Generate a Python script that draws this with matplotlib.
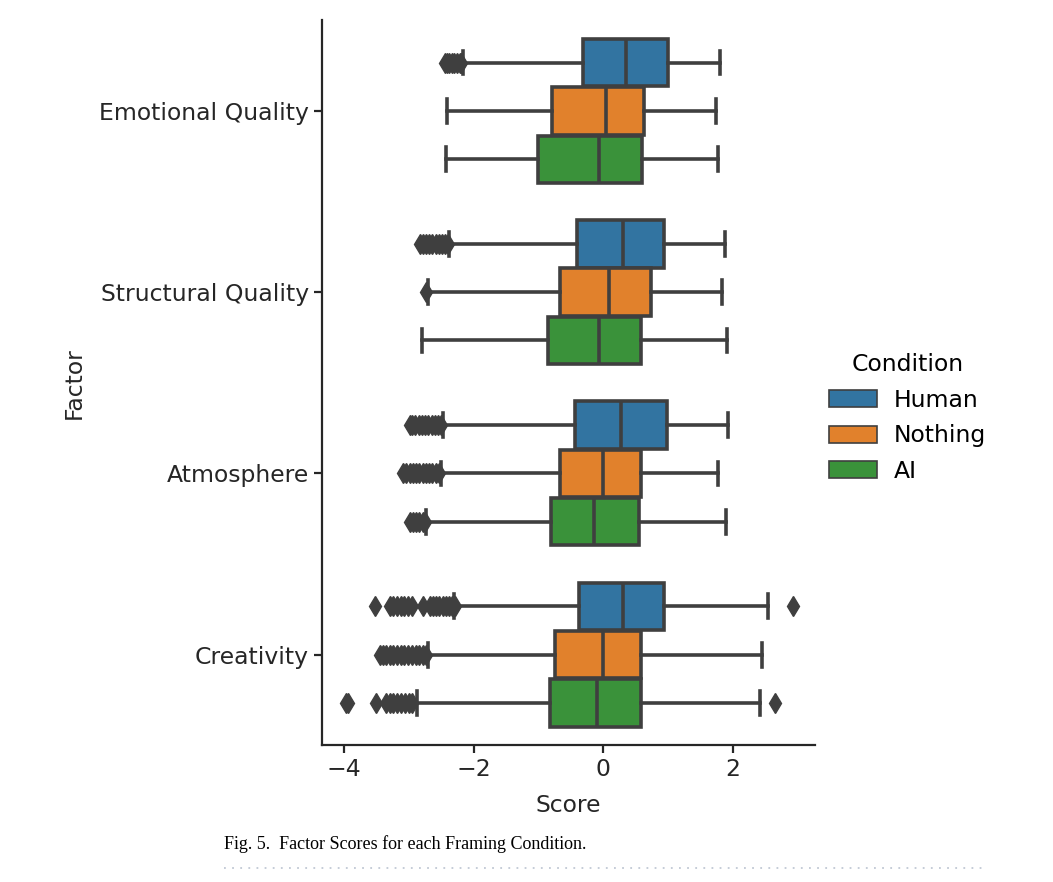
import matplotlib.pyplot as plt
from matplotlib.patches import Patch

factors = ['Emotional Quality', 'Structural Quality', 'Atmosphere', 'Creativity']
conditions = ['Human', 'Nothing', 'AI']
colors = ['#3274a1', '#e1812c', '#3a923a']

# per condition: one entry per factor -> (whislo, q1, med, q3, whishi)
human = [(-2.17, -0.31, 0.35, 1.00, 1.80),
         (-2.38, -0.41, 0.30, 0.94, 1.88),
         (-2.48, -0.44, 0.28, 0.99, 1.93),
         (-2.30, -0.38, 0.30, 0.94, 2.55)]
nothing = [(-2.42, -0.79, 0.04, 0.63, 1.74),
           (-2.70, -0.67, 0.09, 0.73, 1.84),
           (-2.51, -0.67, -0.01, 0.59, 1.77),
           (-2.70, -0.74, -0.01, 0.59, 2.45)]
ai = [(-2.43, -1.01, -0.06, 0.60, 1.77),
      (-2.80, -0.86, -0.06, 0.58, 1.91),
      (-2.74, -0.80, -0.14, 0.55, 1.90),
      (-2.88, -0.82, -0.09, 0.58, 2.42)]

human_fliers = [[-2.45, -2.42, -2.38, -2.34, -2.30, -2.26, -2.22, -2.19],
                [-2.83, -2.79, -2.74, -2.69, -2.64, -2.59, -2.54, -2.49, -2.44, -2.40],
                [-2.99, -2.95, -2.90, -2.85, -2.80, -2.75, -2.70, -2.65, -2.60, -2.55, -2.51],
                [-3.53, -3.30, -3.25, -3.19, -3.13, -3.07, -3.01, -2.96, -2.78,
                 -2.68, -2.63, -2.58, -2.53, -2.48, -2.43, -2.38, -2.33, -2.29, 2.93]]
nothing_fliers = [[],
                  [-2.74],
                  [-3.09, -3.04, -2.99, -2.94, -2.89, -2.84, -2.79, -2.74, -2.69,
                   -2.64, -2.59, -2.54],
                  [-3.45, -3.40, -3.35, -3.30, -3.25, -3.19, -3.13, -3.07, -3.01,
                   -2.95, -2.89, -2.84, -2.79, -2.74]]
ai_fliers = [[],
             [],
             [-2.99, -2.94, -2.89, -2.84, -2.79, -2.76],
             [-3.98, -3.94, -3.51, -3.35, -3.30, -3.24, -3.18, -3.12, -3.06,
              -3.00, -2.95, 2.65]]

series = [human, nothing, ai]
series_fliers = [human_fliers, nothing_fliers, ai_fliers]

edge = '#3f3f3f'
fig = plt.figure(figsize=(10.53, 8.82), dpi=100)
ax = fig.add_axes([0.306, 0.155, 0.468, 0.822])

width = 0.8 / 3
for k, (vals, fl) in enumerate(zip(series, series_fliers)):
    stats = []
    for (lo, q1, med, q3, hi), f in zip(vals, fl):
        stats.append(dict(whislo=lo, q1=q1, med=med, q3=q3, whishi=hi, fliers=f))
    pos = [i + (k - 1) * width for i in range(len(factors))]
    ax.bxp(stats, positions=pos, widths=width * 0.98, vert=False,
           patch_artist=True, manage_ticks=False,
           boxprops=dict(facecolor=colors[k], edgecolor=edge, linewidth=2.6),
           medianprops=dict(color=edge, linewidth=2.6),
           whiskerprops=dict(color=edge, linewidth=2.6),
           capprops=dict(color=edge, linewidth=2.6),
           flierprops=dict(marker='d', markerfacecolor=edge, markeredgecolor=edge,
                           markersize=10, linestyle='none'))

ax.set_ylim(3.5, -0.5)
ax.set_xlim(-4.34, 3.27)
ax.set_yticks(range(len(factors)))
ax.set_yticklabels(factors)
ax.set_xticks([-4, -2, 0, 2])
ax.set_xticklabels(['\u22124', '\u22122', '0', '2'])
ax.tick_params(labelsize=16.9, colors='#262626', width=1.6, length=6)
for s in ['top', 'right']:
    ax.spines[s].set_visible(False)
for s in ['left', 'bottom']:
    ax.spines[s].set_linewidth(1.6)
    ax.spines[s].set_color('#262626')
ax.set_xlabel('Score', fontsize=16.9, color='#262626', labelpad=9)
ax.set_ylabel('Factor', fontsize=16.9, color='#262626', labelpad=10)

handles = [Patch(facecolor=c, edgecolor=edge, linewidth=1.2) for c in colors]
leg = fig.legend(handles, conditions, title='Condition', loc='center left',
                 bbox_to_anchor=(0.7675, 0.526), frameon=False, fontsize=16.9,
                 title_fontsize=16.9, handlelength=2.03, handleheight=0.75,
                 handletextpad=0.72, labelspacing=0.54)

fig.text(0.213, 0.037, 'Fig. 5.  Factor Scores for each Framing Condition.',
         family='Liberation Serif', fontsize=13, color='black')
fig.add_artist(plt.Line2D([0.213, 0.936], [0.016, 0.016], color='#c0c8d4',
                          linestyle=(0, (1, 3.5)), linewidth=1.3))

fig.savefig('out.png', dpi=100)
